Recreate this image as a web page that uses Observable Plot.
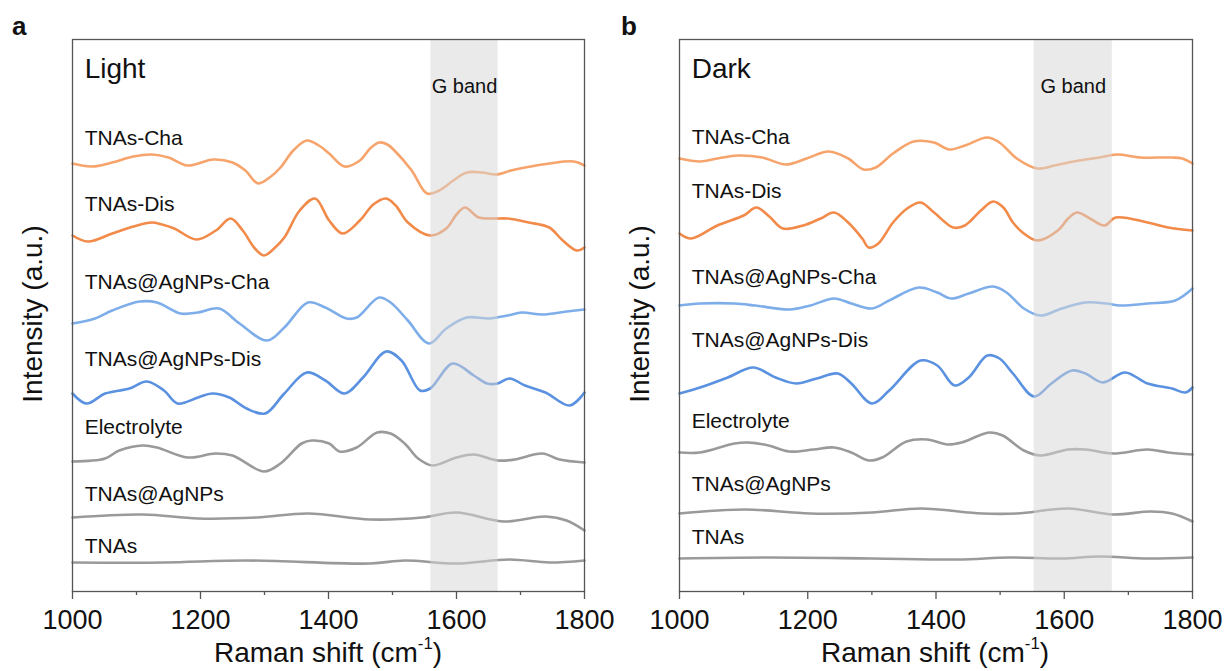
<!DOCTYPE html>
<html>
<head>
<meta charset="utf-8">
<script src="https://cdn.jsdelivr.net/npm/d3@7"></script>
<script src="https://cdn.jsdelivr.net/npm/@observablehq/plot@0.6"></script>
<style>
  html, body { margin: 0; padding: 0; background: #fff; }
  body { font-family: Arial, "Liberation Sans", sans-serif; color: #111; }
  #wrap { position: relative; width: 1226px; height: 671px; overflow: hidden; }
  .panel { position: absolute; top: 0; }
  .ylab { position: absolute; font-size: 28px; line-height: 28px; white-space: nowrap; writing-mode: vertical-rl; transform: translate(-50%, -50%) rotate(180deg); }
  .xlab { position: absolute; font-size: 28px; white-space: nowrap; transform: translateX(-50%); line-height: 28px; }
  .xlab sup { font-size: 0.6em; vertical-align: baseline; position: relative; top: -0.75em; line-height: 0; }
  .letter { position: absolute; font-size: 26px; font-weight: bold; line-height: 26px; }
</style>
</head>
<body>
<div id="wrap">
  <div id="pa" class="panel" style="left:0px"></div>
  <div id="pb" class="panel" style="left:613px"></div>
  <div class="letter" style="left:12px;top:13px">a</div>
  <div class="letter" style="left:621px;top:13px">b</div>
  <div class="ylab" style="left:33px;top:314px">Intensity (a.u.)</div>
  <div class="ylab" style="left:640px;top:314px">Intensity (a.u.)</div>
  <div class="xlab" style="left:328px;top:639px">Raman shift (cm<sup>-1</sup>)</div>
  <div class="xlab" style="left:935px;top:639px">Raman shift (cm<sup>-1</sup>)</div>
</div>
<script>
// ---------- DATA ----------
const seriesNames = ["TNAs-Cha","TNAs-Dis","TNAs@AgNPs-Cha","TNAs@AgNPs-Dis","Electrolyte","TNAs@AgNPs","TNAs"];
const seriesColors = ["#f6a46c","#f28a4a","#7eaeea","#5a91e0","#9a9a9a","#9a9a9a","#9a9a9a"];
const majorTicks = [1000,1200,1400,1600,1800];
const minorTicks = [1100,1300,1500,1700];

// Light panel (Raman shift cm-1, intensity a.u. incl. stacking offset)
const lightTNAsCha = [[1000,437],[1030,434],[1062,438],[1095,444],[1124,446],[1150,443],[1180,435],[1220,441],[1250,438],[1270,430],[1290,417],[1310,424],[1325,433],[1345,450],[1366,460],[1385,455],[1401,447],[1425,434],[1449,440],[1465,452],[1479,458],[1492,456],[1503,450],[1530,430],[1554,407],[1573,410],[1595,420],[1616,428],[1640,428],[1662,426],[1685,430],[1707,433],[1745,437],[1783,439],[1800,435]];
const lightTNAsDis = [[1000,365],[1024,359],[1062,367],[1095,374],[1124,378],[1140,376],[1159,372],[1194,361],[1224,370],[1247,382],[1266,370],[1285,352],[1299,345],[1315,352],[1331,363],[1355,390],[1379,402],[1401,380],[1422,367],[1449,380],[1470,396],[1490,402],[1505,395],[1524,378],[1559,365],[1584,372],[1600,386],[1613,393],[1635,383],[1660,382],[1680,382],[1713,378],[1745,373],[1766,360],[1788,350],[1800,353]];
const lightAgCha = [[1000,277],[1035,282],[1062,290],[1105,299],[1132,298],[1169,287],[1196,288],[1229,292],[1261,277],[1304,260],[1331,273],[1368,298],[1395,293],[1428,282],[1444,283],[1479,303],[1497,298],[1524,280],[1557,257],[1584,272],[1616,283],[1651,282],[1680,285],[1702,288],[1734,286],[1772,289],[1800,291]];
const lightAgDis = [[1000,207],[1022,197],[1051,207],[1089,212],[1116,219],[1143,210],[1164,197],[1196,203],[1218,207],[1245,203],[1272,192],[1301,187],[1331,207],[1366,228],[1395,220],[1425,207],[1454,223],[1490,249],[1514,240],[1543,210],[1559,212],[1594,237],[1627,225],[1648,217],[1664,217],[1683,222],[1707,215],[1739,208],[1777,195],[1800,208]];
const lightElectrolyte = [[1000,139],[1051,142],[1073,150],[1110,155],[1132,153],[1180,143],[1223,147],[1250,145],[1299,129],[1325,137],[1358,157],[1374,160],[1401,157],[1417,149],[1444,153],[1476,168],[1497,167],[1519,157],[1540,142],[1562,135],[1600,143],[1627,146],[1664,140],[1691,141],[1734,147],[1761,141],[1800,138]];
const lightAg = [[1000,83],[1110,86],[1196,82],[1288,83],[1368,87],[1465,81],[1546,83],[1600,88],[1675,79],[1739,84],[1772,80],[1800,70]];
const lightTNAs = [[1000,38],[1143,38],[1272,40],[1465,37],[1519,40],[1600,37],[1683,41],[1745,38],[1800,40]];
const lightLabelY = [456,390,312,235,167,100,48];
const lightBand = [1560,1665];

// Dark panel
const darkTNAsCha = [[1000,442],[1032,439],[1059,442],[1091,445],[1129,443],[1166,436],[1198,442],[1233,449],[1263,442],[1287,431],[1306,433],[1333,447],[1365,459],[1397,458],[1421,451],[1445,455],[1480,463],[1499,458],[1526,442],[1558,432],[1585,435],[1623,440],[1655,443],[1682,446],[1719,443],[1768,443],[1784,442],[1800,437]];
const darkTNAsDis = [[1000,367],[1018,362],[1059,375],[1100,385],[1120,393],[1140,384],[1161,372],[1193,375],[1220,382],[1241,388],[1263,378],[1285,362],[1295,353],[1310,357],[1333,378],[1355,392],[1376,398],[1397,388],[1427,373],[1445,375],[1470,390],[1489,399],[1505,393],[1520,378],[1537,367],[1558,360],[1590,370],[1606,382],[1620,388],[1640,382],[1663,375],[1680,383],[1730,378],[1762,373],[1800,370]];
const darkAgCha = [[1000,295],[1032,297],[1086,297],[1118,295],[1171,291],[1204,295],[1241,302],[1268,297],[1300,292],[1327,300],[1373,313],[1402,308],[1424,302],[1451,307],[1489,314],[1510,308],[1537,292],[1563,285],[1596,292],[1633,298],[1666,297],[1687,295],[1730,297],[1773,300],[1800,312]];
const darkAgDis = [[1000,207],[1032,213],[1075,223],[1115,233],[1150,223],[1182,217],[1214,222],[1247,227],[1268,217],[1300,197],[1327,210],[1376,240],[1402,235],[1429,215],[1451,223],[1480,245],[1499,242],[1520,227],[1553,204],[1580,217],[1612,230],[1633,227],[1660,218],[1695,228],[1730,217],[1768,212],[1789,208],[1800,213]];
const darkElectrolyte = [[1000,148],[1032,148],[1086,157],[1107,158],[1139,155],[1171,149],[1209,151],[1241,153],[1268,148],[1295,140],[1316,143],[1354,159],[1386,161],[1418,156],[1440,158],[1483,168],[1504,165],[1537,150],[1563,145],[1606,151],[1633,151],[1676,147],[1730,151],[1762,148],[1800,146]];
const darkAg = [[1000,87],[1102,91],[1204,87],[1300,88],[1376,92],[1472,87],[1526,87],[1606,92],[1676,86],[1735,89],[1768,87],[1800,79]];
const darkTNAs = [[1000,42],[1139,43],[1300,42],[1434,41],[1515,43],[1596,42],[1655,44],[1730,42],[1800,43]];
const darkLabelY = [457,403,317,254,173,110,57];
const darkBand = [1553,1675];

// ---------- BUILD ----------
const FONT = 'Arial, "Liberation Sans", sans-serif';

function makePanel({title, series, labelY, band, width, marginLeft, marginRight}) {
  const rows = [];
  series.forEach((arr, i) => arr.forEach(([x, y]) => rows.push({x, y, s: seriesNames[i]})));
  const labels = seriesNames.map((n, i) => ({text: n, y: labelY[i]}));
  return Plot.plot({
    width, height: 671,
    marginLeft, marginRight, marginTop: 39, marginBottom: 80,
    x: {domain: [1000, 1800]},
    y: {domain: [9, 561], axis: null},
    color: {domain: seriesNames, range: seriesColors},
    style: {fontFamily: FONT, overflow: "visible", background: "transparent", color: "#111"},
    marks: [
      Plot.line(rows, {x: "x", y: "y", z: "s", stroke: "s", curve: "catmull-rom", strokeWidth: 2.6}),
      Plot.rect([{x1: band[0], x2: band[1]}], {x1: "x1", x2: "x2", fill: "#d6d6d6", fillOpacity: 0.5}),
      Plot.text(labels, {x: 1019, y: "y", text: "text", textAnchor: "start", lineAnchor: "bottom", fontSize: 21, fill: "#111"}),
      Plot.text([title], {x: 1019, y: 523, text: d => d, textAnchor: "start", lineAnchor: "bottom", fontSize: 28, fill: "#111"}),
      Plot.text(["G band"], {x: (band[0] + band[1]) / 2, y: 508, text: d => d, textAnchor: "middle", lineAnchor: "bottom", fontSize: 20, fill: "#111"}),
      Plot.axisX({ticks: majorTicks, tickSize: 8, tickPadding: 10, fontSize: 27, label: null, stroke: "#555", strokeWidth: 1.3, fill: "#111", tickFormat: d => String(d)}),
      Plot.axisX({ticks: minorTicks, tickSize: 4, tickFormat: () => "", label: null, stroke: "#555", strokeWidth: 1.3}),
      Plot.frame({stroke: "#555", strokeWidth: 1.3})
    ]
  });
}

document.getElementById("pa").appendChild(makePanel({
  title: "Light",
  series: [lightTNAsCha, lightTNAsDis, lightAgCha, lightAgDis, lightElectrolyte, lightAg, lightTNAs],
  labelY: lightLabelY, band: lightBand,
  width: 613, marginLeft: 72, marginRight: 29
}));
document.getElementById("pb").appendChild(makePanel({
  title: "Dark",
  series: [darkTNAsCha, darkTNAsDis, darkAgCha, darkAgDis, darkElectrolyte, darkAg, darkTNAs],
  labelY: darkLabelY, band: darkBand,
  width: 613, marginLeft: 66, marginRight: 34
}));
</script>
</body>
</html>
